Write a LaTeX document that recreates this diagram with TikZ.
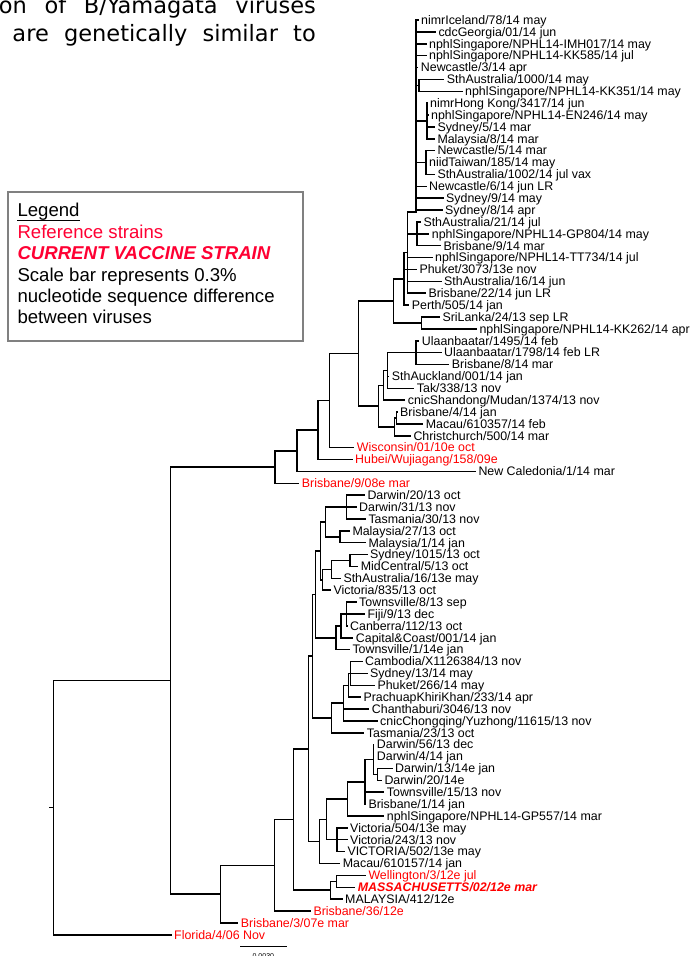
\documentclass[tikz,border=0pt]{standalone}
\usepackage{fontspec}
\setmainfont{Liberation Sans}
\newfontfamily\titlefont{DejaVu Sans}
\usetikzlibrary{calc}
\definecolor{legred}{RGB}{255,0,51}
\definecolor{boxgray}{RGB}{128,128,128}
% leaf coordinate: name, index, tip x
\newcommand\LC[3]{\coordinate (#1) at (#3,{-20-(#2-1)*11.88});}
% internal node: name, x, first child, last child
\newcommand\IN[4]{\path let \p1=(#3), \p2=(#4) in (#2,{(\y1+\y2)/2}) coordinate (#1);
  \draw[br] (#1 |- #3) -- (#1 |- #4);}
% horizontal edge: child, parent
\newcommand\HE[2]{\draw[br] (#2 |- #1) -- (#1);}
% label: style, leaf name, text
\newcommand\LE[3][lab]{\node[#1] (t#2) at (#2) {#3};}
\begin{document}
\begin{tikzpicture}[x=1pt,y=1pt,
  br/.style={line width=1.5pt, line cap=rect},
  lab/.style={anchor=base west, inner sep=0pt, xshift=3pt, yshift=-4.3pt, font=\fontsize{12.4}{14}\selectfont},
  rlab/.style={lab, text=red},
  vlab/.style={lab, text=red, font=\fontsize{12.4}{14}\selectfont\bfseries\itshape},
  leg/.style={anchor=base west, inner sep=0pt, font=\fontsize{18.6}{22}\selectfont},
  ttl/.style={anchor=base east, inner sep=0pt, font=\titlefont\fontsize{22.5}{27}\selectfont}]
\useasboundingbox (0,0) rectangle (692,-956);

% title fragment
\node[ttl] (title1) at (316,-13.3) {\makebox[317pt][s]{on of B/Yamagata viruses}};
\node[ttl] (title2) at (316,-41.7) {\makebox[303.3pt][s]{are genetically similar to}};

% legend
\node[draw=boxgray, line width=1.8pt, fill=white, minimum width=294.4pt, minimum height=149pt, anchor=north west, inner sep=0pt] (legbox) at (7.3,-191) {};
\node[leg] (lg1) at (17.3,-216.7) {Legend};
\draw[line width=1.2pt] ([yshift=-3.6pt]lg1.base west) -- ([yshift=-3.6pt]lg1.base east);
\node[leg, text=legred] (lg2) at (17.3,-238.3) {Reference strains};
\node[leg, text=legred, font=\fontsize{18.6}{22}\selectfont\bfseries\itshape] (lg3) at (17.3,-259.6) {CURRENT VACCINE STRAIN};
\node[leg] (lg4) at (17.3,-281.5) {Scale bar represents 0.3\%};
\node[leg] (lg5) at (17.3,-302.7) {nucleotide sequence difference};
\node[leg] (lg6) at (17.3,-323.5) {between viruses};

% leaf tips
\LC{l1}{1}{418}\LC{l2}{2}{435.3}\LC{l3}{3}{426}\LC{l4}{4}{426}\LC{l5}{5}{417.7}
\LC{l6}{6}{443.7}\LC{l7}{7}{462}\LC{l8}{8}{427}\LC{l9}{9}{428}\LC{l10}{10}{434.3}
\LC{l11}{11}{434.3}\LC{l12}{12}{434.3}\LC{l13}{13}{426}\LC{l14}{14}{434.3}\LC{l15}{15}{426}
\LC{l16}{16}{443}\LC{l17}{17}{442}\LC{l18}{18}{420.3}\LC{l19}{19}{428.7}\LC{l20}{20}{440.3}
\LC{l21}{21}{432}\LC{l22}{22}{416.3}\LC{l23}{23}{441}\LC{l24}{24}{425.3}\LC{l25}{25}{408.7}
\LC{l26}{26}{439.3}\LC{l27}{27}{476.3}\LC{l28}{28}{418.7}\LC{l29}{29}{441}\LC{l30}{30}{448.7}
\LC{l31}{31}{388.7}\LC{l32}{32}{413.7}\LC{l33}{33}{404.7}\LC{l34}{34}{397}\LC{l35}{35}{422.7}
\LC{l36}{36}{410.3}\LC{l37}{37}{353.7}\LC{l38}{38}{352}\LC{l39}{39}{475.3}\LC{l40}{40}{298.7}
\LC{l41}{41}{364.3}\LC{l42}{42}{356}\LC{l43}{43}{365.3}\LC{l44}{44}{349.3}\LC{l45}{45}{365.3}
\LC{l46}{46}{367}\LC{l47}{47}{357.7}\LC{l48}{48}{340.3}\LC{l49}{49}{330.3}\LC{l50}{50}{356}
\LC{l51}{51}{364.3}\LC{l52}{52}{347}\LC{l53}{53}{352.7}\LC{l54}{54}{349.3}\LC{l55}{55}{362}
\LC{l56}{56}{367}\LC{l57}{57}{374.3}\LC{l58}{58}{360.3}\LC{l59}{59}{368.7}\LC{l60}{60}{377}
\LC{l61}{61}{363.7}\LC{l62}{62}{373.7}\LC{l63}{63}{373.7}\LC{l64}{64}{392}\LC{l65}{65}{381.3}
\LC{l66}{66}{383.7}\LC{l67}{67}{365.3}\LC{l68}{68}{383.7}\LC{l69}{69}{347}\LC{l70}{70}{347}
\LC{l71}{71}{344.3}\LC{l72}{72}{339.7}\LC{l73}{73}{365.3}\LC{l74}{74}{354.7}\LC{l75}{75}{342}
\LC{l76}{76}{310.3}\LC{l77}{77}{237.7}\LC{l78}{78}{171}

% internal nodes (bottom-up)
\IN{SA}{419}{l6}{l7}
\IN{HK}{427}{l8}{l11}
\IN{NC}{426}{l12}{l14}
\coordinate (TOP) at (416,-212);
\draw[br] (TOP |- l1) -- (TOP);
\IN{S21}{417}{l18}{l20}
\IN{B}{407.7}{TOP}{l24}
\IN{A}{404}{B}{l25}
\IN{SL}{421.7}{l26}{l27}
\IN{N393}{393.3}{A}{SL}
\IN{U}{416}{l28}{l30}
\IN{U2}{387.3}{U}{l32}
\IN{U3}{383.3}{U2}{l33}
\IN{BM}{396.7}{l34}{l35}
\IN{BMC}{394.3}{BM}{l36}
\IN{N378}{378.3}{U3}{BMC}
\IN{N358}{358.3}{N393}{N378}
\IN{N329}{329.3}{N358}{l37}
\IN{N318}{318}{N329}{l38}
\IN{N297}{297}{N318}{l39}
\IN{X}{275}{N297}{l40}
\IN{D1}{346.7}{l41}{l43}
\IN{M}{340}{l44}{l45}
\IN{D2}{325.7}{D1}{M}
\IN{S}{350}{l46}{l47}
\IN{S2}{331.7}{S}{l48}
\IN{S3}{322.7}{S2}{l49}
\IN{D3}{320.7}{D2}{S3}
\IN{T1}{346.7}{l50}{l52}
\IN{T2}{341}{T1}{l53}
\IN{T3}{336}{T2}{l54}
\IN{Q}{315.7}{D3}{T3}
\IN{C1}{350.7}{l55}{l57}
\IN{P1}{348.3}{C1}{l58}
\IN{P2}{343.3}{P1}{l60}
\IN{P3}{331.7}{P2}{l61}
\IN{N1}{312.7}{Q}{P3}
\IN{DD}{377.7}{l64}{l65}
\IN{DA}{373.3}{l62}{DD}
\IN{DB}{365}{DA}{l67}
\IN{DC}{347.3}{DB}{l68}
\IN{V}{337}{l69}{l71}
\IN{N3}{326.7}{DC}{V}
\IN{N2}{319.3}{N3}{l72}
\IN{N0}{308.3}{N1}{N2}
\IN{W}{336.7}{l73}{l74}
\IN{WM}{330.7}{W}{l75}
\IN{N293}{293.3}{N0}{WM}
\IN{N274}{274.3}{N293}{l76}
\IN{N220}{220.7}{N274}{l77}
\IN{N170}{170.7}{X}{N220}
\IN{ROOT}{53.3}{N170}{l78}
\path (ROOT) ++(-3.3,0) coordinate (rootstub);
\draw[br] (rootstub) -- (ROOT);

% edges
\HE{l1}{TOP}\HE{l2}{TOP}\HE{l3}{TOP}\HE{l4}{TOP}\HE{l5}{TOP}
\HE{l6}{SA}\HE{l7}{SA}\HE{SA}{TOP}
\HE{l8}{HK}\HE{l9}{HK}\HE{l10}{HK}\HE{l11}{HK}\HE{HK}{TOP}
\HE{l12}{NC}\HE{l13}{NC}\HE{l14}{NC}\HE{NC}{TOP}
\HE{l15}{TOP}\HE{l16}{TOP}\HE{l17}{TOP}
\HE{TOP}{B}
\HE{l18}{S21}\HE{l19}{S21}\HE{l20}{S21}\HE{S21}{B}
\HE{l21}{B}\HE{l23}{B}\HE{l24}{B}
\HE{B}{A}\HE{l22}{A}\HE{l25}{A}
\HE{l26}{SL}\HE{l27}{SL}
\HE{A}{N393}\HE{SL}{N393}
\HE{l28}{U}\HE{l29}{U}\HE{l30}{U}
\HE{U}{U2}\HE{l31}{U2}\HE{l32}{U2}
\HE{U2}{U3}\HE{l33}{U3}
\HE{l34}{BM}\HE{l35}{BM}\HE{BM}{BMC}\HE{l36}{BMC}
\HE{U3}{N378}\HE{BMC}{N378}
\HE{N393}{N358}\HE{N378}{N358}
\HE{N358}{N329}\HE{l37}{N329}
\HE{N329}{N318}\HE{l38}{N318}
\HE{N318}{N297}\HE{l39}{N297}
\HE{N297}{X}\HE{l40}{X}
\HE{l41}{D1}\HE{l42}{D1}\HE{l43}{D1}
\HE{l44}{M}\HE{l45}{M}
\HE{D1}{D2}\HE{M}{D2}
\HE{l46}{S}\HE{l47}{S}\HE{S}{S2}\HE{l48}{S2}\HE{S2}{S3}\HE{l49}{S3}
\HE{D2}{D3}\HE{S3}{D3}
\HE{l50}{T1}\HE{l51}{T1}\HE{l52}{T1}\HE{T1}{T2}\HE{l53}{T2}\HE{T2}{T3}\HE{l54}{T3}
\HE{D3}{Q}\HE{T3}{Q}
\HE{l55}{C1}\HE{l56}{C1}\HE{l57}{C1}\HE{C1}{P1}\HE{l58}{P1}
\HE{P1}{P2}\HE{l59}{P2}\HE{l60}{P2}\HE{P2}{P3}\HE{l61}{P3}
\HE{Q}{N1}\HE{P3}{N1}
\HE{l64}{DD}\HE{l65}{DD}\HE{l62}{DA}\HE{l63}{DA}\HE{DD}{DA}
\HE{DA}{DB}\HE{l66}{DB}\HE{l67}{DB}\HE{DB}{DC}\HE{l68}{DC}
\HE{l69}{V}\HE{l70}{V}\HE{l71}{V}
\HE{DC}{N3}\HE{V}{N3}\HE{N3}{N2}\HE{l72}{N2}
\HE{N1}{N0}\HE{N2}{N0}
\HE{l73}{W}\HE{l74}{W}\HE{W}{WM}\HE{l75}{WM}
\HE{N0}{N293}\HE{WM}{N293}
\HE{N293}{N274}\HE{l76}{N274}
\HE{N274}{N220}\HE{l77}{N220}
\HE{X}{N170}\HE{N220}{N170}
\HE{N170}{ROOT}\HE{l78}{ROOT}

% labels
\LE{l1}{nimrIceland/78/14 may}
\LE{l2}{cdcGeorgia/01/14 jun}
\LE{l3}{nphlSingapore/NPHL14-IMH017/14 may}
\LE{l4}{nphlSingapore/NPHL14-KK585/14 jul}
\LE{l5}{Newcastle/3/14 apr}
\LE{l6}{SthAustralia/1000/14 may}
\LE{l7}{nphlSingapore/NPHL14-KK351/14 may}
\LE{l8}{nimrHong Kong/3417/14 jun}
\LE{l9}{nphlSingapore/NPHL14-EN246/14 may}
\LE{l10}{Sydney/5/14 mar}
\LE{l11}{Malaysia/8/14 mar}
\LE{l12}{Newcastle/5/14 mar}
\LE{l13}{niidTaiwan/185/14 may}
\LE{l14}{SthAustralia/1002/14 jul vax}
\LE{l15}{Newcastle/6/14 jun LR}
\LE{l16}{Sydney/9/14 may}
\LE{l17}{Sydney/8/14 apr}
\LE{l18}{SthAustralia/21/14 jul}
\LE{l19}{nphlSingapore/NPHL14-GP804/14 may}
\LE{l20}{Brisbane/9/14 mar}
\LE{l21}{nphlSingapore/NPHL14-TT734/14 jul}
\LE{l22}{Phuket/3073/13e nov}
\LE{l23}{SthAustralia/16/14 jun}
\LE{l24}{Brisbane/22/14 jun LR}
\LE{l25}{Perth/505/14 jan}
\LE{l26}{SriLanka/24/13 sep LR}
\LE{l27}{nphlSingapore/NPHL14-KK262/14 apr}
\LE{l28}{Ulaanbaatar/1495/14 feb}
\LE{l29}{Ulaanbaatar/1798/14 feb LR}
\LE{l30}{Brisbane/8/14 mar}
\LE{l31}{SthAuckland/001/14 jan}
\LE{l32}{Tak/338/13 nov}
\LE{l33}{cnicShandong/Mudan/1374/13 nov}
\LE{l34}{Brisbane/4/14 jan}
\LE{l35}{Macau/610357/14 feb}
\LE{l36}{Christchurch/500/14 mar}
\LE[rlab]{l37}{Wisconsin/01/10e oct}
\LE[rlab]{l38}{Hubei/Wujiagang/158/09e}
\LE{l39}{New Caledonia/1/14 mar}
\LE[rlab]{l40}{Brisbane/9/08e mar}
\LE{l41}{Darwin/20/13 oct}
\LE{l42}{Darwin/31/13 nov}
\LE{l43}{Tasmania/30/13 nov}
\LE{l44}{Malaysia/27/13 oct}
\LE{l45}{Malaysia/1/14 jan}
\LE{l46}{Sydney/1015/13 oct}
\LE{l47}{MidCentral/5/13 oct}
\LE{l48}{SthAustralia/16/13e may}
\LE{l49}{Victoria/835/13 oct}
\LE{l50}{Townsville/8/13 sep}
\LE{l51}{Fiji/9/13 dec}
\LE{l52}{Canberra/112/13 oct}
\LE{l53}{Capital\&Coast/001/14 jan}
\LE{l54}{Townsville/1/14e jan}
\LE{l55}{Cambodia/X1126384/13 nov}
\LE{l56}{Sydney/13/14 may}
\LE{l57}{Phuket/266/14 may}
\LE{l58}{PrachuapKhiriKhan/233/14 apr}
\LE{l59}{Chanthaburi/3046/13 nov}
\LE{l60}{cnicChongqing/Yuzhong/11615/13 nov}
\LE{l61}{Tasmania/23/13 oct}
\LE{l62}{Darwin/56/13 dec}
\LE{l63}{Darwin/4/14 jan}
\LE{l64}{Darwin/13/14e jan}
\LE{l65}{Darwin/20/14e}
\LE{l66}{Townsville/15/13 nov}
\LE{l67}{Brisbane/1/14 jan}
\LE{l68}{nphlSingapore/NPHL14-GP557/14 mar}
\LE{l69}{Victoria/504/13e may}
\LE{l70}{Victoria/243/13 nov}
\LE{l71}{VICTORIA/502/13e may}
\LE{l72}{Macau/610157/14 jan}
\LE[rlab]{l73}{Wellington/3/12e jul}
\LE[vlab]{l74}{MASSACHUSETTS/02/12e mar}
\LE{l75}{MALAYSIA/412/12e}
\LE[rlab]{l76}{Brisbane/36/12e}
\LE[rlab]{l77}{Brisbane/3/07e mar}
\LE[rlab]{l78}{Florida/4/06 Nov}

% scale bar
\coordinate (sbL) at (240,-946.7);
\coordinate (sbR) at (286.7,-946.7);
\draw[line width=1.2pt] (sbL) -- (sbR);
\node[anchor=base, inner sep=0pt, font=\fontsize{7}{8}\selectfont] (sbt) at ($(sbL)!0.5!(sbR)+(0,-11.6)$) {0.0030};
\end{tikzpicture}
\end{document}
